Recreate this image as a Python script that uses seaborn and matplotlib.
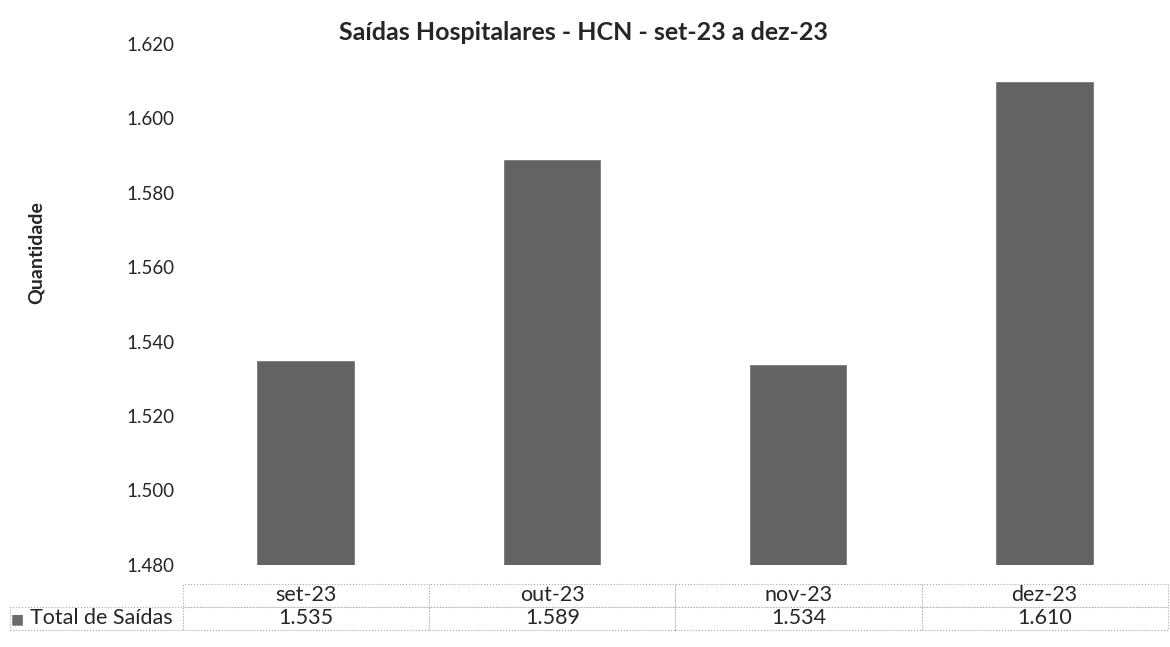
#!/usr/bin/env python
# Saidas Hospitalares - HCN bar chart with data table below
import pandas as pd
import seaborn as sns
from matplotlib import pyplot as plt

# Data
meses = ['set-23', 'out-23', 'nov-23', 'dez-23']
saidas = [1535, 1589, 1534, 1610]
serie = 'Total de Saídas'
yticks = [1480, 1500, 1520, 1540, 1560, 1580, 1600, 1620]

df = pd.DataFrame({'Mes': meses, 'Saidas': saidas})

def br(v):
    # 1535 -> "1.535"
    return f'{v:,}'.replace(',', '.')

# Plot setup
sns.set_style('white')
plt.rcParams['font.family'] = ['Lato', 'DejaVu Sans']
fig = plt.figure(figsize=(11.7, 6.47), dpi=100)
ax = fig.add_axes([0.156, 0.127, 0.842, 0.805])

# Bars
g = sns.barplot(x='Mes', y='Saidas', data=df, ax=ax, color='#636363',
                saturation=1, width=0.4)
ax.set_ylim(yticks[0], yticks[-1])
ax.set_yticks(yticks)
ax.set_yticklabels([br(v) for v in yticks], fontsize=13.5)
ax.tick_params(axis='y', length=0, pad=6)
ax.set_xticks([])
ax.set_xlabel('')
ax.set_ylabel('Quantidade', fontsize=14, fontweight='bold')
ax.yaxis.set_label_coords(-0.14, 0.6)
sns.despine(ax=ax, left=True, bottom=True)
ax.set_title('Saídas Hospitalares - HCN - set-23 a dez-23',
             fontsize=18, fontweight='bold', pad=3, x=0.407)

# Data table below the bars
cells = [[''] + meses, [serie] + [br(v) for v in saidas]]
widths = [173] + [246] * len(meses)
tot = sum(widths)
tab = ax.table(cellText=cells, colWidths=[w / tot for w in widths],
               cellLoc='center', bbox=[-0.175, -0.125, 1.175, 0.089])
tab.auto_set_font_size(False)
tab.set_fontsize(15.5)
for (r, c), cell in tab.get_celld().items():
    cell.set_edgecolor('#a8a8a8')
    cell.set_linestyle(':')
    cell.set_linewidth(0.8)
    if r == 0 and c == 0:
        cell.visible_edges = ''
    if r == 1 and c == 0:
        cell.get_text().set_ha('right')
        cell.PAD = 0.06
# legend key
ax.text(-0.174, -0.104, '■', transform=ax.transAxes, color='#6a6a6a',
        fontsize=10, va='center', ha='left', family=['DejaVu Sans'])

#Save plot
fig.savefig('out.png', dpi=100)
